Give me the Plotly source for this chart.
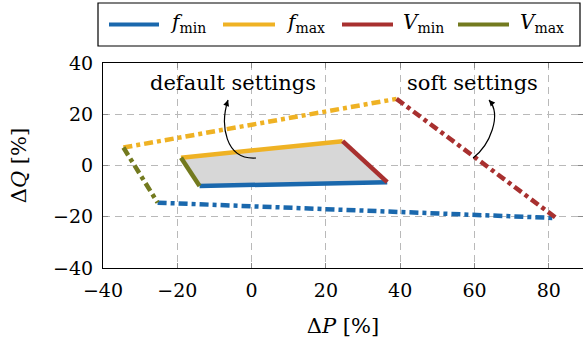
import plotly.graph_objects as go

# Operating region corners (ΔP, ΔQ in %) for the two controller settings
# default settings (solid, shaded)
def_fmin_P = [-14.0, 36.5]
def_fmin_Q = [-8.0, -6.5]
def_fmax_P = [-19.0, 24.5]
def_fmax_Q = [3.0, 9.5]
def_Vmin_P = [24.5, 36.5]
def_Vmin_Q = [9.5, -6.5]
def_Vmax_P = [-19.0, -14.0]
def_Vmax_Q = [3.0, -8.0]

# soft settings (dash-dotted)
soft_fmin_P = [-25.3, 82.0]
soft_fmin_Q = [-14.5, -20.5]
soft_fmax_P = [-34.5, 39.0]
soft_fmax_Q = [7.0, 26.0]
soft_Vmin_P = [39.0, 82.0]
soft_Vmin_Q = [26.0, -20.5]
soft_Vmax_P = [-34.5, -25.3]
soft_Vmax_Q = [7.0, -14.5]

x_ticks = [-40, -20, 0, 20, 40, 60, 80]
y_ticks = [-40, -20, 0, 20, 40]

legend_names = ["<i>f</i><sub>min</sub>", "<i>f</i><sub>max</sub>",
                "<i>V</i><sub>min</sub>", "<i>V</i><sub>max</sub>"]

BLUE = "#1a68ad"
ORANGE = "#efb224"
RED = "#a8302f"
OLIVE = "#737a1f"
FONT = "'DejaVu Serif', 'Liberation Serif', serif"
DASHDOT = "9px,4px,4px,4px"

W, H = 583, 338
ML, MR, MT, MB = 103, 0, 63, 70
PW, PH = W - ML - MR, H - MT - MB


def px_to_paper(px, py):
    return (px - ML) / PW, (H - MB - py) / PH


fig = go.Figure()

# shaded default-settings region
fig.add_trace(go.Scatter(
    x=[def_fmax_P[0], def_fmax_P[1], def_Vmin_P[1], def_fmin_P[0]],
    y=[def_fmax_Q[0], def_fmax_Q[1], def_Vmin_Q[1], def_fmin_Q[0]],
    fill="toself", fillcolor="rgba(215,215,215,1)", mode="none",
    showlegend=False, hoverinfo="skip"))

edges = [
    (soft_fmin_P, soft_fmin_Q, BLUE, DASHDOT),
    (soft_fmax_P, soft_fmax_Q, ORANGE, DASHDOT),
    (soft_Vmin_P, soft_Vmin_Q, RED, DASHDOT),
    (soft_Vmax_P, soft_Vmax_Q, OLIVE, DASHDOT),
    (def_fmin_P, def_fmin_Q, BLUE, "solid"),
    (def_fmax_P, def_fmax_Q, ORANGE, "solid"),
    (def_Vmin_P, def_Vmin_Q, RED, "solid"),
    (def_Vmax_P, def_Vmax_Q, OLIVE, "solid"),
]
for xs, ys, c, d in edges:
    fig.add_trace(go.Scatter(x=xs, y=ys, mode="lines",
                             line=dict(color=c, width=4.5, dash=d),
                             showlegend=False))

shapes = []
annotations = []

# curved callout arrows
def_arrow = [(1.18, 2.93), (-7.16, 2.15), (-8.51, 15.8), (-6.35, 25.56)]
soft_arrow = [(59.6, 2.93), (64.17, 8.0), (67.4, 19.71), (63.9, 25.56)]
for pts, label, lx in [(def_arrow, "default settings", -5.0),
                       (soft_arrow, "soft settings", 59.5)]:
    (x0, y0), (x1, y1), (x2, y2), (x3, y3) = pts
    shapes.append(dict(type="path", xref="x", yref="y",
                       path=f"M {x0},{y0} C {x1},{y1} {x2},{y2} {x3},{y3}",
                       line=dict(color="black", width=1.2)))
    # arrowhead along the end tangent (pixel offsets)
    dxp = (x3 - x2) * PW / 129.2
    dyp = -(y3 - y2) * PH / 80.0
    n = (dxp ** 2 + dyp ** 2) ** 0.5
    annotations.append(dict(x=x3, y=y3, xref="x", yref="y", text="",
                            showarrow=True, arrowhead=2, arrowsize=1,
                            arrowwidth=1.2, arrowcolor="black",
                            ax=-dxp / n * 6, ay=-dyp / n * 6, standoff=0))
    annotations.append(dict(x=lx, y=32.2, xref="x", yref="y", text=label,
                            showarrow=False,
                            font=dict(family=FONT, size=21, color="black")))

# legend box
bx0, by0 = px_to_paper(98, 3)
bx1, by1 = px_to_paper(580, 46)
shapes.append(dict(type="rect", xref="paper", yref="paper",
                   x0=bx0, y0=by1, x1=bx1, y1=by0,
                   line=dict(color="black", width=1.2), fillcolor="white"))
leg_colors = [BLUE, ORANGE, RED, OLIVE]
leg_line_x = [(109, 159), (223, 275), (342, 393), (458, 509)]
leg_text_x = [168, 284, 401, 518]
for name, c, (lx0, lx1), tx in zip(legend_names, leg_colors, leg_line_x, leg_text_x):
    p0x, py_ = px_to_paper(lx0, 24.5)
    p1x, _ = px_to_paper(lx1, 24.5)
    shapes.append(dict(type="line", xref="paper", yref="paper",
                       x0=p0x, x1=p1x, y0=py_, y1=py_,
                       line=dict(color=c, width=4)))
    tpx, tpy = px_to_paper(tx, 23)
    annotations.append(dict(x=tpx, y=tpy, xref="paper", yref="paper",
                            text=name, showarrow=False, xanchor="left",
                            yanchor="middle",
                            font=dict(family=FONT, size=20, color="black")))

axis_common = dict(showline=True, linecolor="black", linewidth=1.2,
                   mirror="ticks", ticks="inside", ticklen=5,
                   tickcolor="#8a8a8a", tickwidth=1,
                   showgrid=True, gridcolor="#b9b9b9", gridwidth=1,
                   griddash="7px,5px", zeroline=False,
                   tickfont=dict(family=FONT, size=19, color="black"))

fig.update_layout(
    width=W, height=H,
    margin=dict(l=ML, r=MR, t=MT, b=MB),
    paper_bgcolor="white", plot_bgcolor="white",
    showlegend=False,
    shapes=shapes, annotations=annotations,
    xaxis=dict(range=[-40, 89.2], tickvals=x_ticks,
               title=dict(text="Δ<i>P</i> [%]", standoff=18,
                          font=dict(family=FONT, size=21, color="black")),
               ticklabelstandoff=5, **axis_common),
    yaxis=dict(range=[-40, 40], tickvals=y_ticks,
               title=dict(text="Δ<i>Q</i> [%]", standoff=20,
                          font=dict(family=FONT, size=21, color="black")),
               ticklabelstandoff=5, **axis_common),
)

fig.write_html("out.html")
